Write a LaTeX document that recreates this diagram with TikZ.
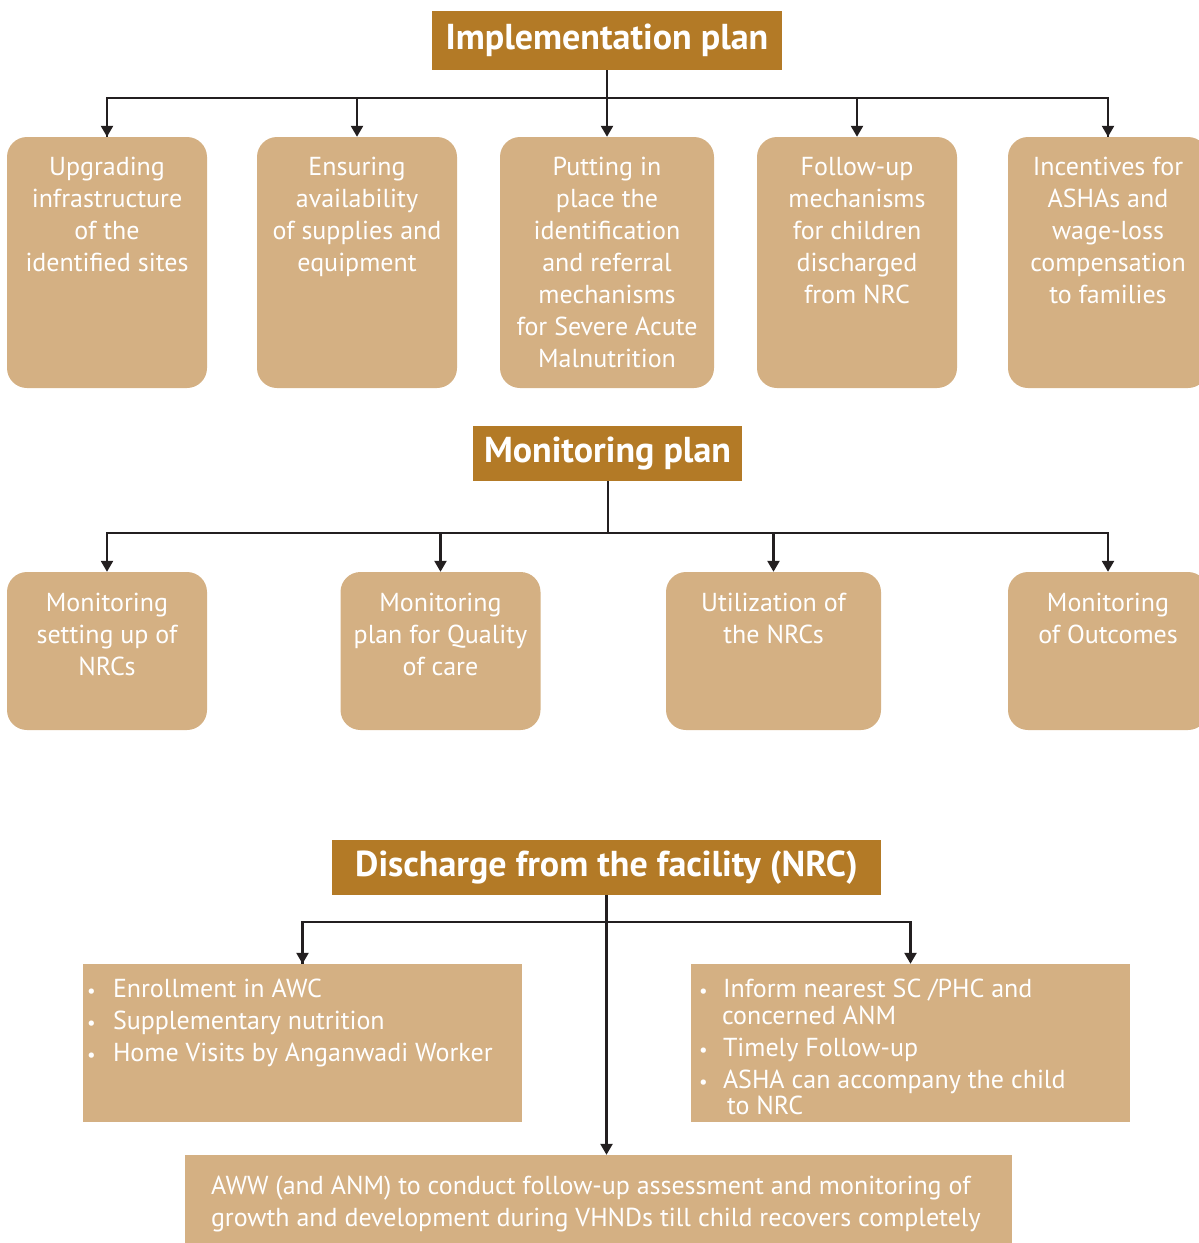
\documentclass[tikz,border=0pt]{standalone}
\usepackage{fontspec}
\setmainfont{PT Sans}
\usetikzlibrary{arrows.meta}
\definecolor{hdrc}{HTML}{B37A26}
\definecolor{boxc}{HTML}{D4B083}
\definecolor{linec}{HTML}{231F20}
\tikzset{
  hdr/.style={fill=hdrc, text=white, inner sep=0pt, font=\bfseries\fontsize{36}{40}\selectfont},
  rbox/.style={fill=boxc, rounded corners=20pt, minimum width=200pt, inner sep=0pt},
  sbox/.style={fill=boxc, inner sep=0pt},
  txt/.style={text=white, align=center, inner sep=0pt, anchor=north, font=\fontsize{26}{32}\selectfont},
  lst/.style={text=white, align=left, inner sep=0pt, anchor=north west, font=\fontsize{26}{32}\selectfont},
  conn/.style={draw=linec, line width=2.4pt},
  arr/.style={conn, -{Triangle[length=11pt,width=12pt]}},
}
\newcommand{\blt}[1]{\makebox[#1][l]{\fontsize{19}{19}\selectfont\textbullet}}
\begin{document}
\begin{tikzpicture}[x=1pt,y=-1pt]
\useasboundingbox (0,0) rectangle (1199,1243);
\clip (0,0) rectangle (1199,1243);
% ---------- Implementation plan
\node[hdr, minimum width=350pt, minimum height=59pt] (h1) at (607,40.5) {Implementation plan};
\node[rbox, minimum height=251pt] (a1) at (107,262.5) {};
\node[rbox, minimum height=251pt] (a2) at (357,262.5) {};
\node[rbox, minimum height=251pt, minimum width=214pt] (a3) at (607,262.5) {};
\node[rbox, minimum height=251pt] (a4) at (857,262.5) {};
\node[rbox, minimum height=251pt] (a5) at (1108,262.5) {};
\node[txt] (a1t) at ([yshift=-16pt]a1.north) {\strut Upgrading\\infrastructure\\of the\\identified sites};
\node[txt] (a2t) at ([yshift=-16pt]a2.north) {\strut Ensuring\\availability\\of supplies and\\equipment};
\node[txt] (a3t) at ([yshift=-16pt]a3.north) {\strut Putting in\\place the\\identification\\and referral\\mechanisms\\for Severe Acute\\Malnutrition};
\node[txt] (a4t) at ([yshift=-16pt]a4.north) {\strut Follow-up\\mechanisms\\for children\\discharged\\from NRC};
\node[txt] (a5t) at ([yshift=-16pt]a5.north) {\strut Incentives for\\ASHAs and\\wage-loss\\compensation\\to families};
\draw[conn] (h1.south) -- ++(0,28) -| (a1.north);
\draw[conn] (h1.south) -- ++(0,28) -| (a5.north);
\foreach \b in {a1,a2,a4,a5} \draw[arr] (h1.south) ++(0,28) -| (\b.north);
\draw[arr] (h1.south) -- (a3.north);
% ---------- Monitoring plan
\node[hdr, minimum width=269pt, minimum height=55pt] (h2) at (607.5,453.5) {Monitoring plan};
\node[rbox, minimum height=158pt] (m1) at (107,651) {};
\node[rbox, minimum height=158pt] (m2) at (440.5,651) {};
\node[rbox, minimum height=158pt, minimum width=215pt] (m3) at (773.5,651) {};
\node[rbox, minimum height=158pt] (m4) at (1108,651) {};
\node[txt] (m1t) at ([yshift=-17pt]m1.north) {\strut Monitoring\\setting up of\\NRCs};
\node[txt] (m2t) at ([yshift=-17pt]m2.north) {\strut Monitoring\\plan for Quality\\of care};
\node[txt] (m3t) at ([yshift=-17pt]m3.north) {\strut Utilization of\\the NRCs};
\node[txt] (m4t) at ([yshift=-17pt]m4.north) {\strut Monitoring\\of Outcomes};
\draw[draw=linec, line width=2pt] (h2.south) -- ++(0,52);
\foreach \b in {m1,m2,m3,m4} \draw[arr] (h2.south) ++(0,52) -| (\b.north);
% ---------- Discharge
\node[hdr, minimum width=549pt, minimum height=55pt] (h3) at (606.5,867.5) {Discharge from the facility (NRC)};
\node[sbox, minimum width=439pt, minimum height=158pt] (l1) at (302.5,1043) {};
\node[sbox, minimum width=439pt, minimum height=158pt] (r1) at (910.5,1043) {};
\node[sbox, minimum width=827pt, minimum height=90pt] (bt) at (598.5,1200) {};
\node[lst] (l1t) at ([xshift=4pt,yshift=-11pt]l1.north west) {\strut\blt{26pt}Enrollment in AWC\\
\blt{26pt}Supplementary nutrition\\
\blt{26pt}Home Visits by Anganwadi Worker};
\node[lst] (r1t) at ([xshift=8pt,yshift=-11pt]r1.north west) {\strut\blt{24pt}Inform nearest SC /PHC and\\[-5pt]
\hspace*{23pt}concerned ANM\\
\blt{24pt}Timely Follow-up\\
\blt{24pt}ASHA can accompany the child\\[-6pt]
\hspace*{28pt}to NRC};
\node[lst] (btt) at ([xshift=26pt,yshift=-17.5pt]bt.north west) {\strut AWW (and ANM) to conduct follow-up assessment and monitoring of\\
growth and development during VHNDs till child recovers completely};
\draw[conn] (h3.south) -- ++(0,27) -| (l1.north);
\draw[arr] (h3.south) ++(0,27) -| (l1.north);
\draw[arr] (h3.south) ++(0,27) -| (r1.north);
\draw[arr] (h3.south) -- (h3.south |- bt.north);
\end{tikzpicture}
\end{document}
